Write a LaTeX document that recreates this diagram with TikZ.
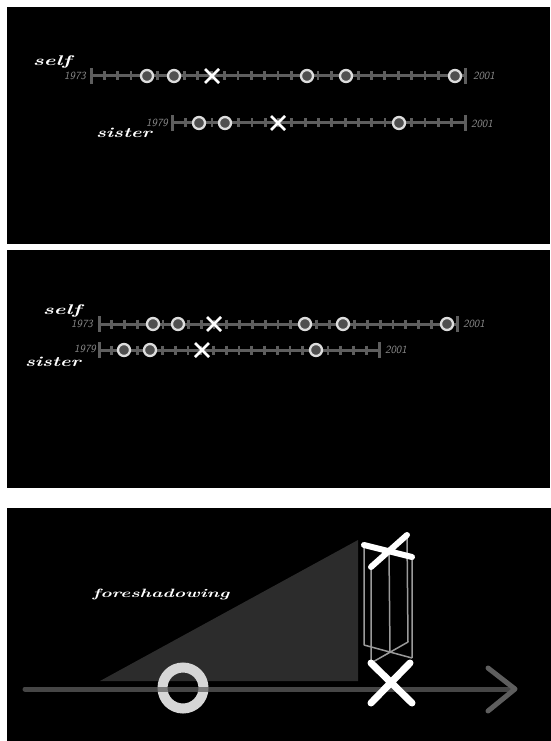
\documentclass[tikz,border=0pt]{standalone}
\usepackage{fontspec}
\definecolor{tlgray}{HTML}{5E5E5E}
\definecolor{ringw}{HTML}{DDDDDD}
\definecolor{ringfill}{HTML}{505050}
\definecolor{yrgray}{HTML}{8A8A8A}
\definecolor{trigray}{HTML}{2C2C2C}
\definecolor{ogray}{HTML}{D6D6D6}
\definecolor{wire}{HTML}{9A9A9A}
\begin{document}
\begin{tikzpicture}[x=1pt,y=-1pt,
  panel/.style={fill=black},
  tl/.style={draw=tlgray,line width=3pt},
  tickmark/.style={draw=tlgray,line width=2.8pt},
  endbar/.style={draw=tlgray,line width=3pt},
  ring/.style={draw=ringw,fill=ringfill,line width=2.3pt},
  xmark/.style={draw=white,line width=2.8pt},
  who/.style={text=white,inner sep=0pt,font=\bfseries\itshape\fontsize{14}{14}\selectfont},
  yr/.style={text=yrgray,inner sep=0pt,font=\sffamily\itshape\fontsize{11}{11}\selectfont},
]
\useasboundingbox (0,0) rectangle (551,741);
\fill[white] (0,0) rectangle (551,741);
\fill[panel] (7,7) rectangle (550,244);
\fill[panel] (7,250) rectangle (550,488);
\fill[panel] (7,508) rectangle (551,741);

% ---------- panel 1 ----------
% self
\draw[tl] (91,76) -- (465,76);
\foreach \i in {1,...,27} \draw[tickmark] ({91+\i*13.357},71.5) -- ++(0,9);
\draw[endbar] (91,68) -- (91,84);
\draw[endbar] (465,68) -- (465,84);
\foreach \x in {147,174,307,346,455} \draw[ring] (\x,76) circle[radius=6pt];
\draw[xmark] (205,69) -- (219,83) (205,83) -- (219,69);
\node[who] (self1) at (52,62) {\scalebox{1.6}[1]{self}};
\node[yr,anchor=east] (y73a) at (86,76) {1973};
\node[yr,anchor=west] (y01a) at (473,76) {2001};
% sister
\draw[tl] (172,123) -- (465,123);
\foreach \i in {1,...,21} \draw[tickmark] ({172+\i*13.318},118.5) -- ++(0,9);
\draw[endbar] (172,115) -- (172,131);
\draw[endbar] (465,115) -- (465,131);
\foreach \x in {199,225,399} \draw[ring] (\x,123) circle[radius=6pt];
\draw[xmark] (271,116) -- (285,130) (271,130) -- (285,116);
\node[who] (sis1) at (124,133) {\scalebox{1.45}[1]{sister}};
\node[yr,anchor=east] (y79a) at (168,123) {1979};
\node[yr,anchor=west] (y01b) at (471,124) {2001};

% ---------- panel 2 ----------
\draw[tl] (99,324) -- (457,324);
\foreach \i in {1,...,27} \draw[tickmark] ({99+\i*12.786},319.5) -- ++(0,9);
\draw[endbar] (99,316) -- (99,332);
\draw[endbar] (457,316) -- (457,332);
\foreach \x in {153,178,305,343,447} \draw[ring] (\x,324) circle[radius=6pt];
\draw[xmark] (207,317) -- (221,331) (207,331) -- (221,317);
\node[who] (self2) at (62,311) {\scalebox{1.6}[1]{self}};
\node[yr,anchor=east] (y73b) at (93,324) {1973};
\node[yr,anchor=west] (y01c) at (463,324) {2001};
% sister
\draw[tl] (99,350) -- (379,350);
\foreach \i in {1,...,21} \draw[tickmark] ({99+\i*12.727},345.5) -- ++(0,9);
\draw[endbar] (99,342) -- (99,358);
\draw[endbar] (379,342) -- (379,358);
\foreach \x in {124,150,316} \draw[ring] (\x,350) circle[radius=6pt];
\draw[xmark] (195,343) -- (209,357) (195,357) -- (209,343);
\node[who] (sis2) at (53,362) {\scalebox{1.45}[1]{sister}};
\node[yr,anchor=east] (y79b) at (96,349) {1979};
\node[yr,anchor=west] (y01d) at (385,350) {2001};

% ---------- panel 3 ----------
\fill[trigray] (100,681) -- (358,540) -- (358,681) -- cycle;
\draw[ogray,line width=10pt] (183,688) circle[radius=20.5pt];
\draw[tlgray,opacity=0.75,line width=5pt,line cap=round] (25,689) -- (514,689);
\draw[tlgray,line width=5pt,line cap=round,line join=round] (488,668) -- (515,689) -- (488,711);
\node[text=white,inner sep=0pt,font=\bfseries\itshape\fontsize{12}{12}\selectfont] (fore) at (161,594) {\scalebox{1.6}[1]{foreshadowing}};
% wireframe prism
\coordinate (A) at (364,545); \coordinate (B) at (407,535);
\coordinate (C) at (412,557); \coordinate (D) at (371,567);
\coordinate (M) at (389,551);
\coordinate (A2) at (364,645); \coordinate (B2) at (408,642);
\coordinate (C2) at (412,658); \coordinate (D2) at (371,663);
\coordinate (M2) at (390,652);
\draw[wire,line width=1.5pt] (A) -- (A2) (B) -- (B2) (C) -- (C2) (D) -- (D2) (M) -- (M2)
  (A2) -- (C2) (D2) -- (B2);
\draw[white,line width=6pt,line cap=round] (D) -- (B) (A) -- (C);
\draw[white,line width=7pt,line cap=round] (371,663) -- (412,703) (410,663) -- (371,703);
\end{tikzpicture}
\end{document}
